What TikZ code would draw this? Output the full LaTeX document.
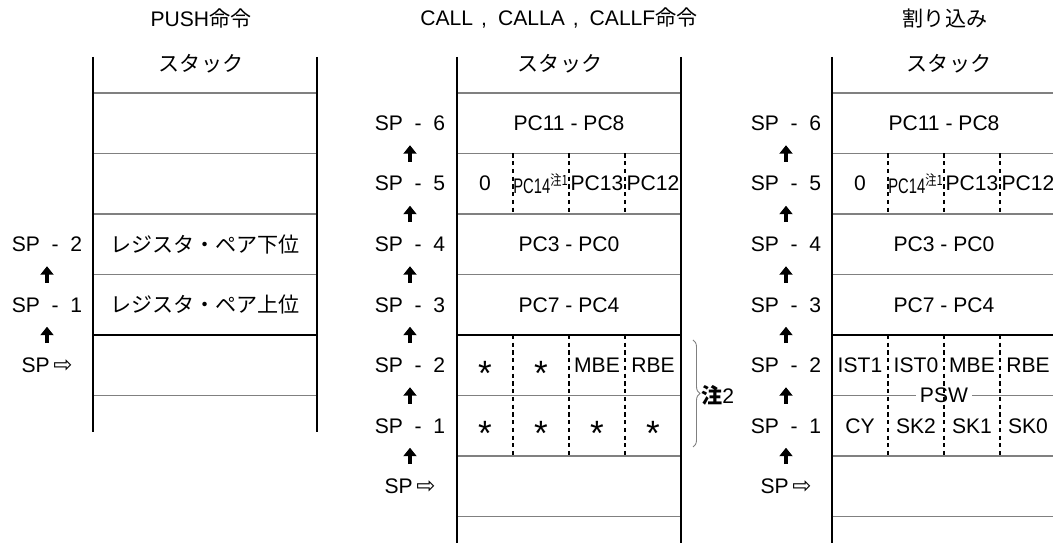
\documentclass[tikz,border=0pt]{standalone}
\usepackage{fontspec}
\usepackage{graphicx}
\usepackage{tikz}
\usetikzlibrary{positioning,arrows.meta,calc,decorations.pathreplacing}
\setmainfont{Liberation Sans}
\newfontfamily\jpfont{Noto Sans CJK JP}
\newfontfamily\symfont{DejaVu Sans}
\definecolor{linegray}{HTML}{808080}
\newcommand{\sparrow}{{\symfont\fontsize{13}{13}\selectfont ⇨}}
\newcommand{\pcfourteen}{\scalebox{0.7}[1]{PC14}\textsuperscript{\scalebox{0.8}[1]{\jpfont 注1}}}
\newcommand{\bigstar}{\raisebox{-11.4pt}[0pt][0pt]{\fontsize{20}{20}\selectfont *}}

\tikzset{
  stackwall/.style={line width=1.7pt},
  rowline/.style={linegray, line width=0.8pt},
  rowblack/.style={black, line width=0.8pt},
  celldiv/.style={dash pattern=on 2.4pt off 2pt, line width=0.7pt},
  uparrow/.style={line width=2.7pt, -{Triangle[width=0.26cm,length=0.17cm]},
    shorten <=0.44cm, shorten >=0.44cm},
}

\begin{document}
\begin{tikzpicture}[font=\fontsize{12}{14}\selectfont]
  \useasboundingbox (0,0) rectangle (21.06,10.86);

  % Titulos
  \node (tpush) at (4.02,10.5) {PUSH{\jpfont 命令}};
  \node (tcall) at (11.18,10.5)
    {CALL\hspace{0.16cm},\hspace{0.22cm}CALLA\hspace{0.16cm},\hspace{0.22cm}CALLF{\jpfont 命令}};
  \node (tint) at (18.9,10.5) {{\jpfont 割り込み}};

  % Pila PUSH
  \foreach \y in {9.0,7.79,6.58,5.37,2.95}
    \draw[rowline] (1.86,\y) -- (6.34,\y);
  \draw[rowblack] (1.86,4.16) -- (6.34,4.16);
  \draw[stackwall] (1.86,9.72) -- (1.86,2.22);
  \draw[stackwall] (6.34,9.72) -- (6.34,2.22);
  \node (hpush) at (4.02,9.58) {\jpfont スタック};
  \node (pushlo) at (4.1,5.975) {\jpfont レジスタ・ペア下位};
  \node (pushhi) at (4.1,4.765) {\jpfont レジスタ・ペア上位};

  % Punteros PUSH
  \node (psp2) at (0.94,5.975) {SP~~-~~2};
  \node (psp1) at (0.94,4.765) {SP~~-~~1};
  \node (psp0) at (0.94,3.555) {SP\,\sparrow};
  \draw[uparrow] (psp0.center) -- (psp1.center);
  \draw[uparrow] (psp1.center) -- (psp2.center);

  % Pila CALL
  \foreach \y in {9.0,7.79,6.58,5.37,2.95,1.74,0.53}
    \draw[rowline] (9.14,\y) -- (13.62,\y);
  \draw[rowblack] (9.14,4.16) -- (13.62,4.16);
  \foreach \x in {10.26,11.38,12.5}{
    \draw[celldiv] (\x,7.79) -- (\x,6.58);
    \draw[celldiv] (\x,4.16) -- (\x,1.74);
  }
  \draw[stackwall] (9.14,9.72) -- (9.14,0);
  \draw[stackwall] (13.62,9.72) -- (13.62,0);
  \node (hcall) at (11.2,9.58) {\jpfont スタック};
  \node (c6) at (11.38,8.395) {PC11 - PC8};
  \foreach \x/\t [count=\i] in {9.7/0,10.82/\pcfourteen,11.94/PC13,13.06/PC12}
    \node (c5-\i) at (\x,7.185) {\t};
  \node (c4) at (11.38,5.975) {PC3 - PC0};
  \node (c3) at (11.38,4.765) {PC7 - PC4};
  \foreach \x/\t [count=\i] in {9.7/\bigstar,10.82/\bigstar,11.94/MBE,13.06/RBE}
    \node (c2-\i) at (\x,3.555) {\t};
  \foreach \x [count=\i] in {9.7,10.82,11.94,13.06}
    \node (c1-\i) at (\x,2.345) {\bigstar};

  % Llave nota 2
  \coordinate (btop) at (13.86,4.06);
  \coordinate (bbot) at (13.86,1.92);
  \draw[linegray, line width=0.5pt, decorate, decoration={brace, amplitude=0.14cm}]
    (btop) -- (bbot);
  \node[anchor=west, inner sep=0pt] (note2) at (14.02,2.95) {{\jpfont\bfseries 注}2};

  % Punteros CALL
  \foreach \n/\y in {6/8.395,5/7.185,4/5.975,3/4.765,2/3.555,1/2.345}
    \node (csp\n) at (8.2,\y) {SP~~-~~\n};
  \node (csp0) at (8.2,1.135) {SP\,\sparrow};
  \foreach \a/\b in {0/1,1/2,2/3,3/4,4/5,5/6}
    \draw[uparrow] (csp\a.center) -- (csp\b.center);

  % Pila de interrupcion
  \foreach \y in {9.0,7.79,6.58,5.37,2.95,1.74,0.53}
    \draw[rowline] (16.64,\y) -- (21.06,\y);
  \draw[rowblack] (16.64,4.16) -- (21.06,4.16);
  \node[fill=white, inner xsep=2pt, inner ysep=0pt] (psw) at (18.88,2.95) {PSW};
  \foreach \x in {17.76,18.88,20.0}{
    \draw[celldiv] (\x,7.79) -- (\x,6.58);
    \draw[celldiv] (\x,4.16) -- (\x,1.74);
  }
  \draw[stackwall] (16.64,9.72) -- (16.64,0);
  \node (hint) at (18.98,9.58) {\jpfont スタック};
  \node (i6) at (18.88,8.395) {PC11 - PC8};
  \foreach \x/\t [count=\i] in {17.2/0,18.32/\pcfourteen,19.44/PC13,20.56/PC12}
    \node (i5-\i) at (\x,7.185) {\t};
  \node (i4) at (18.88,5.975) {PC3 - PC0};
  \node (i3) at (18.88,4.765) {PC7 - PC4};
  \foreach \x/\t [count=\i] in {17.2/IST1,18.32/IST0,19.44/MBE,20.56/RBE}
    \node (i2-\i) at (\x,3.555) {\t};
  \foreach \x/\t [count=\i] in {17.2/CY,18.32/SK2,19.44/SK1,20.56/SK0}
    \node (i1-\i) at (\x,2.345) {\t};

  % Punteros interrupcion
  \foreach \n/\y in {6/8.395,5/7.185,4/5.975,3/4.765,2/3.555,1/2.345}
    \node (isp\n) at (15.72,\y) {SP~~-~~\n};
  \node (isp0) at (15.72,1.135) {SP\,\sparrow};
  \foreach \a/\b in {0/1,1/2,2/3,3/4,4/5,5/6}
    \draw[uparrow] (isp\a.center) -- (isp\b.center);
\end{tikzpicture}
\end{document}
